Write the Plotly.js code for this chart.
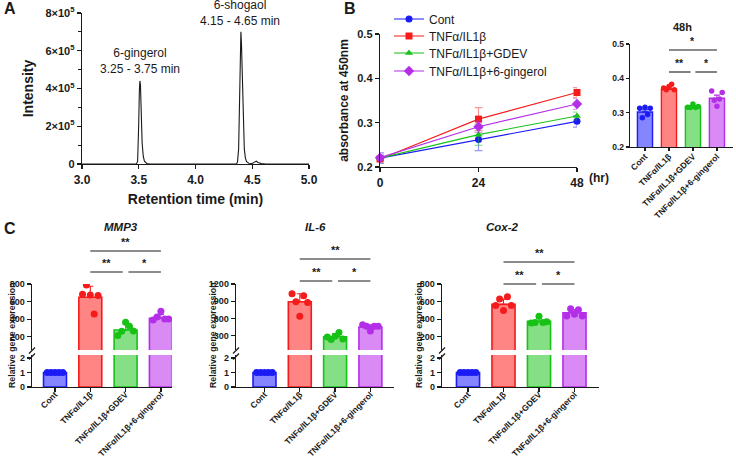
<!DOCTYPE html>
<html>
<head>
<meta charset="utf-8">
<script src="https://cdn.plot.ly/plotly-3.0.1.min.js"></script>
<style>
  html, body { margin: 0; padding: 0; background: #fff; }
  #fig { width: 736px; height: 461px; }
</style>
</head>
<body>
<div id="fig"></div>
<script>
// ---------- data ----------
// A: LC chromatogram
const rtTime = [3.0, 3.48, 3.49, 3.495, 3.50, 3.505, 3.51, 3.515, 3.52, 3.525, 3.53, 3.54, 3.55, 3.57, 3.60,
                4.36, 4.37, 4.38, 4.385, 4.39, 4.395, 4.40, 4.405, 4.41, 4.415, 4.42, 4.43, 4.44, 4.45, 4.47,
                4.50, 4.52, 4.535, 4.55, 4.58, 4.62, 5.0];
const rtIntensity = [0, 0, 15000, 80000, 220000, 380000, 440000, 420000, 320000, 200000, 110000, 40000, 15000, 3000, 0,
                     0, 10000, 80000, 250000, 480000, 660000, 700000, 640000, 500000, 340000, 210000, 80000, 30000, 12000, 4000,
                     3000, 10000, 15000, 8000, 2000, 0, 0];
const peakLabels = ['6-gingerol<br>3.25 - 3.75 min', '6-shogaol<br>4.15 - 4.65 min'];
const peakLabelX = [3.51, 4.39];
const peakLabelY = [546000, 800000];

// B: absorbance time course
const hours = [0, 24, 48];
const groups = ['Cont', 'TNFα/IL1β', 'TNFα/IL1β+GDEV', 'TNFα/IL1β+6-gingerol'];
const absCont = [0.220, 0.262, 0.303];
const absTnf  = [0.218, 0.308, 0.368];
const absGdev = [0.220, 0.273, 0.315];
const absGing = [0.221, 0.291, 0.342];
const errCont = [0.012, 0.025, 0.013];
const errTnf  = [0.004, 0.026, 0.011];
const errGdev = [0.006, 0.024, 0.009];
const errGing = [0.006, 0.013, 0.012];

// B inset: 48 h
const mean48 = [0.302, 0.368, 0.318, 0.342];
const err48  = [0.006, 0.004, 0.003, 0.009];
const pts48 = [
  [0.313, 0.285, 0.316, 0.295, 0.313],
  [0.372, 0.367, 0.376, 0.383, 0.367],
  [0.316, 0.315, 0.325, 0.315, 0.318],
  [0.363, 0.336, 0.319, 0.340, 0.359]
];

// C: relative gene expression
const mmp3Mean = [1, 650, 278, 410];
const mmp3Err  = [0, 125, 65, 45];
const mmp3Pts = [
  [1, 1, 1, 1, 1],
  [684, 790, 676, 459, 670],
  [215, 264, 365, 320, 265],
  [391, 425, 489, 402, 402]
];
const il6Mean = [1, 890, 280, 448];
const il6Err  = [0, 140, 55, 42];
const il6Pts = [
  [1, 1, 1, 1, 1],
  [1030, 890, 640, 996, 877],
  [277, 231, 288, 355, 243],
  [491, 464, 379, 464, 464]
];
const cox2Mean = [1, 568, 375, 472];
const cox2Err  = [0, 60, 32, 38];
const cox2Pts = [
  [1, 1, 1, 1, 1],
  [556, 630, 500, 656, 556],
  [356, 363, 433, 363, 370],
  [437, 519, 456, 507, 437]
];
const geneNames = ['MMP3', 'IL-6', 'Cox-2'];
const upperTicks = [[200, 400, 600, 800], [300, 600, 900, 1200], [200, 400, 600, 800]];
const lowerTicks = [0, 1, 2];
const sigPairs = [[1, 3, '**'], [1, 2, '**'], [2, 3, '*']];
const sig48 = [[1, 3, '*'], [1, 2, '**'], [2, 3, '*']];

// ---------- styling ----------
const W = 736, H = 461;
const px = v => v / W;
const py = v => 1 - v / H;
const FONT = 'Liberation Sans, Arial, sans-serif';
const INK = '#1a1a1a';
const edge = ['#1b1bf5', '#f51b1b', '#17c217', '#b42ee8'];
const fill = ['#8585ff', '#ff8585', '#85e085', '#d98af5'];
const soft = ['rgba(27,27,245,0.45)', 'rgba(245,27,27,0.45)', 'rgba(23,194,23,0.45)', 'rgba(180,46,232,0.45)'];
const bSymbols = ['circle', 'square', 'triangle-up', 'diamond'];
const legendRows = [19, 36, 53, 71];

const axBase = {
  showline: true, linecolor: INK, linewidth: 1.3, ticks: 'outside', tickcolor: INK,
  tickwidth: 1.3, ticklen: 4, zeroline: false, showgrid: false, fixedrange: true
};
const boldTick = s => ({ size: s, weight: 'bold', family: FONT, color: INK });

const traces = [];
const shapes = [];
const annotations = [];

// ---------- A ----------
traces.push({
  x: rtTime, y: rtIntensity, mode: 'lines', line: { color: INK, width: 1.1 },
  xaxis: 'x', yaxis: 'y', showlegend: false, hoverinfo: 'skip', offsetgroup: 'a'
});
peakLabels.forEach((t, i) => annotations.push({
  text: t, x: peakLabelX[i], y: peakLabelY[i], xref: 'x', yref: 'y', showarrow: false,
  font: { size: 12, family: FONT, color: INK }, xanchor: 'center', yanchor: 'middle'
}));

// ---------- B line chart (one legend box per series) ----------
const bSeries = [absCont, absTnf, absGdev, absGing];
const bErr = [errCont, errTnf, errGdev, errGing];
bSeries.forEach((s, i) => traces.push({
  x: hours, y: s, name: groups[i], mode: 'lines+markers',
  legend: i === 0 ? 'legend' : 'legend' + (i + 1),
  marker: { symbol: bSymbols[i], size: i === 3 ? 8 : 7, color: edge[i] },
  line: { color: edge[i], width: 1.1 },
  error_y: { type: 'data', array: bErr[i], color: soft[i], thickness: 1.2, width: 4 },
  xaxis: 'x2', yaxis: 'y2', cliponaxis: false, offsetgroup: 'b', hoverinfo: 'skip'
}));

// ---------- bar + dot helpers ----------
function addBarGroup(xa, ya, means, errs, showErr, barWidth, lw, lo, hi) {
  means.forEach((m, i) => {
    if (m < lo) return;
    traces.push({
      type: 'bar', x: [groups[i]], y: [m], width: barWidth,
      marker: { color: fill[i], line: { color: edge[i], width: lw } },
      error_y: (showErr && errs[i] > 0) ? { type: 'data', array: [errs[i]], arrayminus: [0], symmetric: false,
        color: edge[i], thickness: 1.1, width: 3 } : { visible: false },
      xaxis: xa, yaxis: ya, showlegend: false, hoverinfo: 'skip'
    });
  });
}
// dots live on an overlaying category axis so their side-by-side spread
// (scattermode "group") does not interact with the bars; values outside
// the visible segment are left out
function addPoints(xa, ya, pts, size, lo, hi) {
  for (let k = 0; k < pts[0].length; k++) {
    traces.push({
      type: 'scatter', mode: 'markers', x: groups,
      y: pts.map(g => (g[k] >= lo && g[k] <= hi) ? g[k] : null),
      marker: { color: edge, size: size }, offsetgroup: 'r' + k,
      xaxis: xa, yaxis: ya, showlegend: false, hoverinfo: 'skip'
    });
  }
}
addBarGroup('x3', 'y3', mean48, err48, true, 0.63, 1.4, -Infinity, Infinity);
addPoints('x10', 'y3', pts48, 5.5, -Infinity, Infinity);

// ---------- layout ----------
const legendBox = row => ({
  x: px(389), y: py(row), xanchor: 'left', yanchor: 'middle',
  font: { size: 12, family: FONT, color: INK }, bgcolor: 'rgba(0,0,0,0)',
  itemwidth: 30, tracegroupgap: 0
});
const layout = {
  width: W, height: H, margin: { l: 0, r: 0, t: 0, b: 0 },
  paper_bgcolor: '#fff', plot_bgcolor: 'rgba(0,0,0,0)',
  font: { family: FONT, color: INK },
  barmode: 'overlay', scattermode: 'group', scattergap: 0.45,
  showlegend: true,
  legend: legendBox(legendRows[0]),
  legend2: legendBox(legendRows[1]),
  legend3: legendBox(legendRows[2]),
  legend4: legendBox(legendRows[3]),
  xaxis: Object.assign({}, axBase, {
    domain: [px(82), px(309)], range: [3, 5], dtick: 0.5, tickformat: '.1f', anchor: 'y',
    tickfont: boldTick(12),
    title: { text: 'Retention time (min)', font: { size: 14, weight: 'bold', family: FONT, color: INK }, standoff: 8 }
  }),
  yaxis: Object.assign({}, axBase, {
    domain: [py(164), py(13)], range: [0, 800000], anchor: 'x',
    tickvals: [0, 200000, 400000, 600000, 800000],
    ticktext: ['0', '2×10<sup>5</sup>', '4×10<sup>5</sup>', '6×10<sup>5</sup>', '8×10<sup>5</sup>'],
    tickfont: boldTick(11),
    minor: { dtick: 100000, ticklen: 2.5, tickcolor: INK, tickwidth: 1.2, ticks: 'outside' },
    title: { text: 'Intensity', font: { size: 14, weight: 'bold', family: FONT, color: INK }, standoff: 8 }
  }),
  xaxis2: Object.assign({}, axBase, {
    domain: [px(380), px(577)], range: [0, 48], tickvals: hours, anchor: 'y2',
    tickfont: boldTick(12)
  }),
  yaxis2: Object.assign({}, axBase, {
    domain: [py(167), py(34)], range: [0.2, 0.5], dtick: 0.1, tickformat: '.1f', anchor: 'x2',
    tickfont: boldTick(11),
    title: { text: 'absorbance at 450nm', font: { size: 12, weight: 'bold', family: FONT, color: INK }, standoff: 6 }
  }),
  xaxis3: Object.assign({}, axBase, {
    domain: [px(630), px(733)], range: [-0.625, 3.67], type: 'category',
    categoryorder: 'array', categoryarray: groups, anchor: 'y3', tickangle: -45,
    tickfont: boldTick(8.5), ticklen: 3, ticklabelstandoff: -3
  }),
  xaxis10: {
    overlaying: 'x3', anchor: 'y3', range: [-0.625, 3.67], type: 'category',
    categoryorder: 'array', categoryarray: groups, visible: false, fixedrange: true
  },
  yaxis3: Object.assign({}, axBase, {
    domain: [py(147), py(44)], range: [0.2, 0.5], dtick: 0.1, tickformat: '.1f', anchor: 'x3',
    tickfont: boldTick(8.5), ticklen: 3
  })
};

// ---------- C ----------
const cMeans = [mmp3Mean, il6Mean, cox2Mean];
const cErrs = [mmp3Err, il6Err, cox2Err];
const cPts = [mmp3Pts, il6Pts, cox2Pts];
const lowerTop = 2.2, upperBottom = 50;
// pixel frame of each gene panel: y-axis x, first category x, axis end x, category step
const cFrame = [
  { ax: 32, c0: 55, end: 172, step: 35.3, sigTop: 251, sigLow: 272, title: 12 },
  { ax: 236, c0: 264.5, end: 394, step: 35.3, sigTop: 259, sigLow: 281, title: 213 },
  { ax: 442, c0: 468, end: 599, step: 35.5, sigTop: 262, sigLow: 284, title: 419 }
];
const axIds = [['x4', 'y4', 'y5', 'x11'], ['x6', 'y6', 'y7', 'x12'], ['x8', 'y8', 'y9', 'x13']];

cFrame.forEach((f, g) => {
  const [xa, yl, yu, xp] = axIds[g];
  const lo = (f.ax - f.c0) / f.step, hi = (f.end - f.c0) / f.step;
  const top = upperTicks[g][upperTicks[g].length - 1];
  layout['xaxis' + xa.slice(1)] = Object.assign({}, axBase, {
    domain: [px(f.ax), px(f.end)], range: [lo, hi], type: 'category',
    categoryorder: 'array', categoryarray: groups, anchor: yl, tickangle: -45,
    tickfont: boldTick(8.5), ticklabelstandoff: -6
  });
  layout['xaxis' + xp.slice(1)] = {
    overlaying: xa, anchor: yl, range: [lo, hi], type: 'category',
    categoryorder: 'array', categoryarray: groups, visible: false, fixedrange: true
  };
  layout['yaxis' + yl.slice(1)] = Object.assign({}, axBase, {
    domain: [py(387), py(355)], range: [0, lowerTop], tickvals: lowerTicks, anchor: xa,
    tickfont: boldTick(9)
  });
  layout['yaxis' + yu.slice(1)] = Object.assign({}, axBase, {
    domain: [py(350), py(284)], range: [upperBottom, top], tickvals: upperTicks[g], anchor: xa,
    tickfont: boldTick(9)
  });

  addBarGroup(xa, yl, cMeans[g], cErrs[g], false, 0.65, 1.6, -Infinity, lowerTop);
  addBarGroup(xa, yu, cMeans[g], cErrs[g], true, 0.65, 1.6, upperBottom, Infinity);
  addPoints(xp, yl, cPts[g], 7, -Infinity, lowerTop);
  addPoints(xp, yu, cPts[g], 7, upperBottom, Infinity);

  // axis break marks
  [350.5, 356.5].forEach(yy => shapes.push({
    type: 'line', xref: 'paper', yref: 'paper',
    x0: px(f.ax - 3), y0: py(yy + 3), x1: px(f.ax + 3), y1: py(yy - 3),
    line: { color: INK, width: 1.2 }
  }));

  // significance brackets
  sigPairs.forEach(([a, b, lab], k) => {
    const yy = k === 0 ? f.sigTop : f.sigLow;
    const x0 = a + (k === 2 ? 0.08 : 0);
    const x1 = b - (k === 1 ? 0.08 : 0);
    shapes.push({ type: 'line', xref: xa, yref: 'paper', x0: x0, x1: x1, y0: py(yy), y1: py(yy),
      line: { color: INK, width: 1.2 } });
    annotations.push({ text: lab, xref: xa, yref: 'paper', x: (x0 + x1) / 2, y: py(yy - 1),
      yanchor: 'bottom', showarrow: false, font: { size: 11, weight: 'bold', family: FONT, color: INK } });
  });

  // gene title and y title
  annotations.push({ text: '<b><i>' + geneNames[g] + '</i></b>', xref: 'paper', yref: 'paper',
    x: px((f.ax + f.end) / 2), y: py(227), showarrow: false, yanchor: 'middle',
    font: { size: 11.5, family: FONT, color: INK } });
  annotations.push({ text: 'Relative gene expression', xref: 'paper', yref: 'paper',
    x: px(f.title), y: py(335), textangle: -90, showarrow: false, xanchor: 'center', yanchor: 'middle',
    font: { size: 8.8, weight: 'bold', family: FONT, color: INK } });
});

// inset significance
sig48.forEach(([a, b, lab], k) => {
  const yy = k === 0 ? 50 : 72;
  const x0 = a + (k === 2 ? 0.1 : 0);
  const x1 = b - (k === 1 ? 0.1 : 0);
  shapes.push({ type: 'line', xref: 'x3', yref: 'paper', x0: x0, x1: x1, y0: py(yy), y1: py(yy),
    line: { color: INK, width: 1.1 } });
  annotations.push({ text: lab, xref: 'x3', yref: 'paper', x: (x0 + x1) / 2, y: py(yy - 1),
    yanchor: 'bottom', showarrow: false, font: { size: 10.5, weight: 'bold', family: FONT, color: INK } });
});

// panel letters and free text
const boldTxt = (t, x, y, s, xa) => ({ text: t, xref: 'paper', yref: 'paper', x: px(x), y: py(y),
  xanchor: xa || 'left', yanchor: 'middle', showarrow: false, font: { size: s, weight: 'bold', family: FONT, color: INK } });
annotations.push(boldTxt('A', 2, 9, 16));
annotations.push(boldTxt('B', 342, 9, 16));
annotations.push(boldTxt('C', 2, 228, 16));
annotations.push(boldTxt('(hr)', 587, 178, 12));
annotations.push(boldTxt('48h', 682, 27, 11, 'center'));

layout.shapes = shapes;
layout.annotations = annotations;

Plotly.newPlot('fig', traces, layout, { staticPlot: true, displayModeBar: false });
</script>
</body>
</html>
